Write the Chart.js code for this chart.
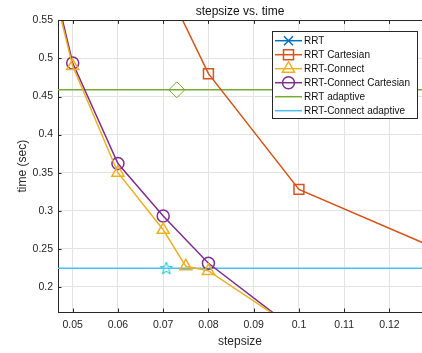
<!DOCTYPE html>
<html>
<head>
<meta charset="utf-8">
<script src="https://cdn.jsdelivr.net/npm/chart.js@4.4.1/dist/chart.umd.min.js"></script>
<style>
  html, body { margin: 0; padding: 0; background: #fff; }
</style>
</head>
<body>
<canvas id="chart" width="422" height="353"></canvas>
<script>
// tick labels
const xTicks = [0.05, 0.06, 0.07, 0.08, 0.09, 0.1, 0.11, 0.12];
const yTicks = [0.2, 0.25, 0.3, 0.35, 0.4, 0.45, 0.5, 0.55];

// series (points past the frame only set the slope of the line entering/leaving it)
const rrtX = [];
const rrtY = [];
const rrtCartX = [0.07, 0.08, 0.1, 0.15];
const rrtCartY = [0.603, 0.48, 0.328, 0.2];
const connX = [0.04, 0.05, 0.06, 0.07, 0.075, 0.08, 0.1];
const connY = [0.73, 0.49, 0.35, 0.275, 0.227, 0.221, 0.142];
const connCartX = [0.04, 0.05, 0.06, 0.07, 0.08, 0.1];
const connCartY = [0.744, 0.494, 0.362, 0.293, 0.231, 0.14];
const adaptiveSpanX = [0.04, 0.13];
const rrtAdaptiveY = 0.4588;
const connAdaptiveY = 0.2246;
const rrtAdaptivePoint = [0.073, 0.4588];
const connAdaptivePoint = [0.0707, 0.2246];

const colors = {
  blue: "#0072BD",
  orange: "#D95319",
  yellow: "#EDB120",
  purple: "#7E2F8E",
  green: "#77AC30",
  sky: "#4DBEEE",
  cyan: "#00C4CF",
  axis: "#262626",
  grid: "#e3e3e3",
};

const pts = (xs, ys) => xs.map((x, i) => ({ x: x, y: ys[i] }));

// pentagram marker, drawn once on a little canvas
const starCanvas = document.createElement("canvas");
starCanvas.width = 16;
starCanvas.height = 16;
(function () {
  const c = starCanvas.getContext("2d");
  c.strokeStyle = colors.cyan;
  c.lineWidth = 1;
  c.beginPath();
  for (let i = 0; i < 10; i++) {
    const r = i % 2 === 0 ? 6.5 : 2.7;
    const a = -Math.PI / 2 + (i * Math.PI) / 5;
    const px = 8 + r * Math.cos(a);
    const py = 8.5 + r * Math.sin(a);
    if (i === 0) c.moveTo(px, py);
    else c.lineTo(px, py);
  }
  c.closePath();
  c.stroke();
})();

function lineSet(label, data, color, style, radius, marker) {
  return {
    label: label,
    data: data,
    borderColor: color,
    backgroundColor: color,
    borderWidth: 1.5,
    pointStyle: style,
    pointRadius: radius,
    pointBorderColor: color,
    pointBackgroundColor: "rgba(0,0,0,0)",
    pointBorderWidth: 1.5,
    legendMarker: marker,
    tension: 0,
  };
}

const datasets = [
  lineSet("RRT", pts(rrtX, rrtY), colors.blue, "crossRot", 6, "x"),
  lineSet("RRT Cartesian", pts(rrtCartX, rrtCartY), colors.orange, "rect", 7, "rect"),
  lineSet("RRT-Connect", pts(connX, connY), colors.yellow, "triangle", 7, "triangle"),
  lineSet("RRT-Connect Cartesian", pts(connCartX, connCartY), colors.purple, "circle", 6, "circle"),
  lineSet("RRT adaptive", pts(adaptiveSpanX, adaptiveSpanX.map(() => rrtAdaptiveY)), colors.green, "circle", 0, null),
  lineSet("RRT-Connect adaptive", pts(adaptiveSpanX, adaptiveSpanX.map(() => connAdaptiveY)), colors.sky, "circle", 0, null),
  {
    label: "rrt adaptive pick",
    data: [{ x: rrtAdaptivePoint[0], y: rrtAdaptivePoint[1] }],
    showLine: false,
    pointStyle: "rectRot",
    pointRadius: 8,
    pointBorderColor: colors.green,
    pointBackgroundColor: "rgba(0,0,0,0)",
    pointBorderWidth: 1,
    hideInLegend: true,
  },
  {
    label: "connect adaptive pick",
    data: [{ x: connAdaptivePoint[0], y: connAdaptivePoint[1] }],
    showLine: false,
    pointStyle: starCanvas,
    pointRadius: 8,
    hideInLegend: true,
  },
];

function drawMarker(ctx, kind, x, y) {
  ctx.beginPath();
  if (kind === "x") {
    ctx.moveTo(x - 4.5, y - 4.5);
    ctx.lineTo(x + 4.5, y + 4.5);
    ctx.moveTo(x + 4.5, y - 4.5);
    ctx.lineTo(x - 4.5, y + 4.5);
  } else if (kind === "rect") {
    ctx.rect(x - 5, y - 5, 10, 10);
  } else if (kind === "triangle") {
    ctx.moveTo(x, y - 7);
    ctx.lineTo(x + 6.1, y + 3.5);
    ctx.lineTo(x - 6.1, y + 3.5);
    ctx.closePath();
  } else if (kind === "circle") {
    ctx.arc(x, y, 6, 0, Math.PI * 2);
  }
  ctx.stroke();
}

const framePlugin = {
  id: "frame",
  afterDatasetsDraw(chart) {
    const { ctx, chartArea, scales } = chart;
    ctx.save();
    ctx.strokeStyle = colors.axis;
    ctx.lineWidth = 1;
    ctx.beginPath();
    ctx.moveTo(chartArea.left, Math.round(chartArea.top) + 0.5);
    ctx.lineTo(chartArea.right, Math.round(chartArea.top) + 0.5);
    xTicks.forEach((t) => {
      const px = Math.round(scales.x.getPixelForValue(t)) + 0.5;
      ctx.moveTo(px, chartArea.bottom);
      ctx.lineTo(px, chartArea.bottom - 3.5);
      ctx.moveTo(px, chartArea.top);
      ctx.lineTo(px, chartArea.top + 3.5);
    });
    yTicks.forEach((t) => {
      const py = Math.round(scales.y.getPixelForValue(t)) + 0.5;
      ctx.moveTo(chartArea.left, py);
      ctx.lineTo(chartArea.left + 3.5, py);
    });
    ctx.stroke();
    ctx.restore();
  },
  afterDraw(chart) {
    const ctx = chart.ctx;
    const items = chart.data.datasets.filter((d) => !d.hideInLegend);
    const box = { x: 272.5, y: 31.5, w: 145, h: 87 };
    ctx.save();
    ctx.fillStyle = "#fff";
    ctx.fillRect(box.x, box.y, box.w, box.h);
    ctx.strokeStyle = colors.axis;
    ctx.lineWidth = 1;
    ctx.strokeRect(box.x, box.y, box.w, box.h);
    ctx.font = "10px 'Liberation Sans', Arial, sans-serif";
    ctx.textBaseline = "middle";
    items.forEach((d, i) => {
      const y = 40.7 + i * 14;
      ctx.strokeStyle = d.borderColor;
      ctx.lineWidth = 1.5;
      ctx.beginPath();
      ctx.moveTo(275, y);
      ctx.lineTo(302, y);
      ctx.stroke();
      if (d.legendMarker) drawMarker(ctx, d.legendMarker, 288.5, y);
      ctx.fillStyle = "#111";
      ctx.fillText(d.label, 304, y + 0.5);
    });
    ctx.restore();
  },
};

const font = "'Liberation Sans', Arial, sans-serif";

new Chart(document.getElementById("chart"), {
  type: "line",
  data: { datasets: datasets },
  options: {
    responsive: false,
    animation: false,
    devicePixelRatio: 1,
    layout: { padding: 0, autoPadding: false },
    plugins: {
      legend: { display: false },
      tooltip: { enabled: false },
      title: {
        display: true,
        text: "stepsize vs. time",
        fullSize: false,
        color: "#111",
        font: { family: font, size: 12, weight: "normal" },
        padding: { top: 4, bottom: 2 },
      },
    },
    scales: {
      x: {
        type: "linear",
        min: 0.04675,
        max: 0.1272,
        afterBuildTicks: (scale) => {
          scale.ticks = xTicks.map((v) => ({ value: v }));
        },
        afterFit: (scale) => {
          scale.height = 41;
          scale.paddingLeft = 0;
          scale.paddingRight = 0;
        },
        ticks: {
          color: colors.axis,
          padding: 7,
          maxRotation: 0,
          autoSkip: false,
          font: { family: font, size: 10.5 },
          callback: (v) => String(v),
        },
        grid: { color: colors.grid, drawTicks: false },
        border: { display: true, color: colors.axis, width: 1 },
        title: {
          display: true,
          text: "stepsize",
          color: colors.axis,
          font: { family: font, size: 12 },
          padding: { top: 0, bottom: 4 },
        },
      },
      y: {
        type: "linear",
        min: 0.167,
        max: 0.55,
        afterBuildTicks: (scale) => {
          scale.ticks = yTicks.map((v) => ({ value: v }));
        },
        afterFit: (scale) => {
          scale.width = 58;
          scale.paddingTop = 0;
          scale.paddingBottom = 0;
        },
        ticks: {
          color: colors.axis,
          padding: 5,
          autoSkip: false,
          font: { family: font, size: 10.5 },
          callback: (v) => String(v),
        },
        grid: { color: colors.grid, drawTicks: false },
        border: { display: true, color: colors.axis, width: 1 },
        title: {
          display: true,
          text: "time (sec)",
          color: colors.axis,
          font: { family: font, size: 12 },
          padding: { top: 15, bottom: 0 },
        },
      },
    },
  },
  plugins: [framePlugin],
});
</script>
</body>
</html>
